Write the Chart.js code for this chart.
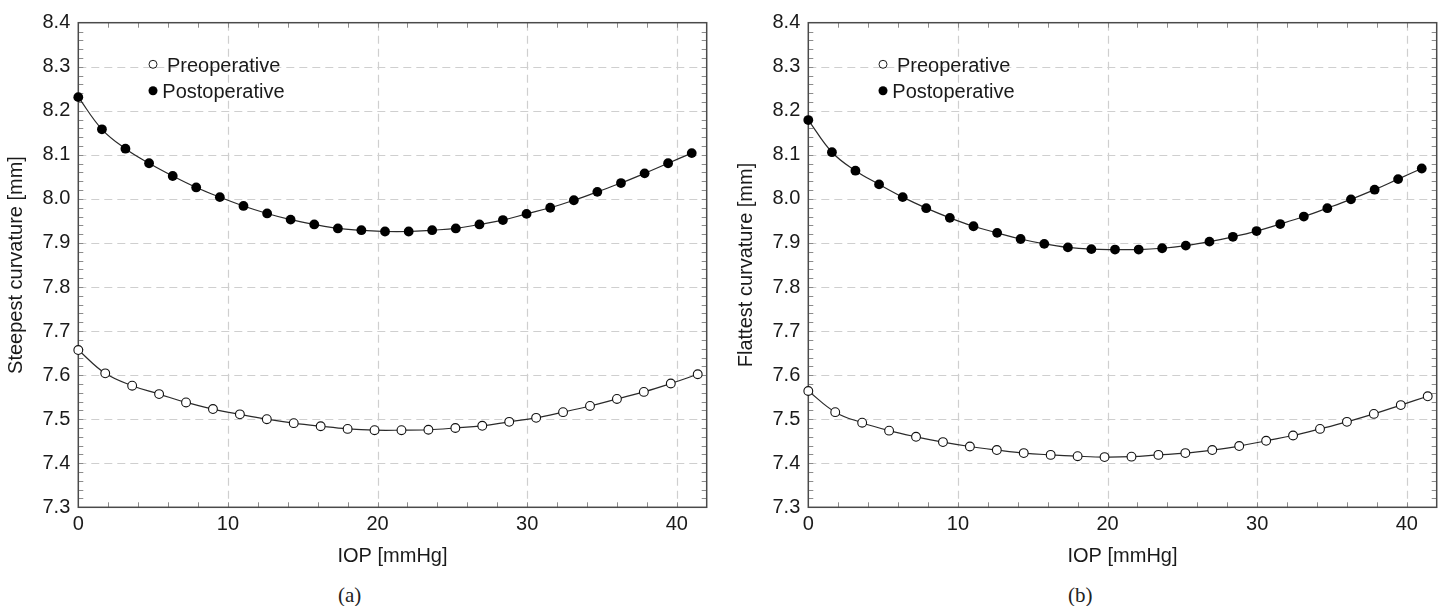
<!DOCTYPE html>
<html>
<head>
<meta charset="utf-8">
<script src="https://cdn.jsdelivr.net/npm/chart.js@4.4.1/dist/chart.umd.min.js"></script>
<style>
  html, body { margin: 0; padding: 0; background: #fff; width: 1445px; height: 606px; overflow: hidden; }
  canvas { position: absolute; top: 0; }
  #cA { left: 0; }
  #cB { left: 730px; }
  .cap { position: absolute; font-family: "Liberation Serif", "DejaVu Serif", serif; font-size: 21px; color: #222; top: 583px; }
</style>
</head>
<body>
<canvas id="cA" width="715" height="580"></canvas>
<canvas id="cB" width="715" height="580"></canvas>
<div class="cap" style="left:338px">(a)</div>
<div class="cap" style="left:1068px">(b)</div>
<script>
// ---- data ----
const iopPre = [0, 1.8, 3.6, 5.4, 7.2, 9.0, 10.8, 12.6, 14.4, 16.2, 18.0, 19.8, 21.6, 23.4, 25.2, 27.0, 28.8, 30.6, 32.4, 34.2, 36.0, 37.8, 39.6, 41.4];
const iopPost = [0, 1.58, 3.15, 4.73, 6.31, 7.88, 9.46, 11.04, 12.62, 14.19, 15.77, 17.35, 18.92, 20.5, 22.08, 23.65, 25.23, 26.81, 28.38, 29.96, 31.54, 33.12, 34.69, 36.27, 37.85, 39.42, 41.0];

const steepPre = [7.657, 7.604, 7.576, 7.557, 7.538, 7.523, 7.511, 7.500, 7.491, 7.484, 7.478, 7.475, 7.475, 7.476, 7.480, 7.485, 7.494, 7.503, 7.516, 7.530, 7.546, 7.562, 7.581, 7.602];
const steepPost = [8.231, 8.158, 8.114, 8.081, 8.052, 8.026, 8.004, 7.984, 7.967, 7.953, 7.942, 7.933, 7.929, 7.926, 7.926, 7.929, 7.933, 7.942, 7.952, 7.966, 7.980, 7.997, 8.016, 8.036, 8.058, 8.081, 8.104];

const flatPre = [7.564, 7.516, 7.492, 7.474, 7.460, 7.448, 7.438, 7.430, 7.423, 7.419, 7.416, 7.414, 7.415, 7.419, 7.423, 7.430, 7.439, 7.451, 7.463, 7.478, 7.494, 7.512, 7.532, 7.552];
const flatPost = [8.179, 8.106, 8.064, 8.033, 8.004, 7.979, 7.957, 7.938, 7.923, 7.909, 7.898, 7.890, 7.886, 7.885, 7.885, 7.888, 7.894, 7.903, 7.914, 7.927, 7.943, 7.960, 7.979, 7.999, 8.021, 8.045, 8.069];

const seriesLabels = ['Preoperative', 'Postoperative'];
const xTitle = 'IOP [mmHg]';
const yTitles = ['Steepest curvature [mm]', 'Flattest curvature [mm]'];
const xTickValues = [0, 10, 20, 30, 40];
const yTickValues = [7.3, 7.4, 7.5, 7.6, 7.7, 7.8, 7.9, 8.0, 8.1, 8.2, 8.3, 8.4];
const xRange = [0, 42];
const yRange = [7.3, 8.4];

const FONT = '"Liberation Sans", Arimo, Helvetica, Arial, sans-serif';

const framePlugin = {
  id: 'frame',
  beforeDatasetsDraw(chart) {
    const { ctx, chartArea: a, scales: { x, y } } = chart;
    ctx.save();
    // dashed grid at major ticks
    ctx.strokeStyle = '#cfcfcf';
    ctx.lineWidth = 1.2;
    ctx.setLineDash([8, 5]);
    x.ticks.forEach(t => {
      const px = Math.round(x.getPixelForValue(t.value)) + 0.5;
      if (px <= a.left + 2 || px >= a.right - 2) return;
      ctx.beginPath(); ctx.moveTo(px, a.top); ctx.lineTo(px, a.bottom); ctx.stroke();
    });
    y.ticks.forEach(t => {
      const py = Math.round(y.getPixelForValue(t.value)) + 0.5;
      if (py <= a.top + 2 || py >= a.bottom - 2) return;
      ctx.beginPath(); ctx.moveTo(a.left, py); ctx.lineTo(a.right, py); ctx.stroke();
    });
    ctx.setLineDash([]);
    // minor ticks inside the frame
    ctx.strokeStyle = '#8c8c8c';
    ctx.lineWidth = 1;
    const L = 5;
    for (let k = 1; k * 2 < xRange[1]; k++) {
      const px = Math.round(x.getPixelForValue(k * 2)) + 0.5;
      ctx.beginPath();
      ctx.moveTo(px, a.bottom); ctx.lineTo(px, a.bottom - L);
      ctx.moveTo(px, a.top); ctx.lineTo(px, a.top + L);
      ctx.stroke();
    }
    for (let k = 1; k < 55; k++) {
      const v = yRange[0] + k * 0.02;
      const py = Math.round(y.getPixelForValue(v)) + 0.5;
      ctx.beginPath();
      ctx.moveTo(a.left, py); ctx.lineTo(a.left + L, py);
      ctx.moveTo(a.right, py); ctx.lineTo(a.right - L, py);
      ctx.stroke();
    }
    // frame
    ctx.strokeStyle = '#4a4a4a';
    ctx.lineWidth = 1.5;
    ctx.strokeRect(a.left, a.top, a.right - a.left, a.bottom - a.top);
    ctx.restore();
  },
  afterDraw(chart) {
    const { ctx, chartArea: a } = chart;
    ctx.save();
    ctx.font = '20px ' + FONT;
    ctx.textBaseline = 'alphabetic';
    const mx = a.left + 74.7;
    // Preoperative
    let my = a.top + 41.6;
    ctx.beginPath(); ctx.arc(mx, my, 4, 0, Math.PI * 2);
    ctx.fillStyle = '#fff'; ctx.fill();
    ctx.strokeStyle = '#1a1a1a'; ctx.lineWidth = 1; ctx.stroke();
    ctx.fillStyle = '#1a1a1a';
    ctx.fillText(chart.data.datasets[0].label, a.left + 88.7, my + 7.2);
    // Postoperative
    my = a.top + 68;
    ctx.beginPath(); ctx.arc(mx, my, 4.5, 0, Math.PI * 2);
    ctx.fillStyle = '#000'; ctx.fill();
    ctx.fillStyle = '#1a1a1a';
    ctx.fillText(chart.data.datasets[1].label, a.left + 84, my + 7.2);
    ctx.restore();
  }
};

function makeChart(id, pre, post, yTitle) {
  return new Chart(document.getElementById(id), {
    type: 'line',
    data: {
      datasets: [
        {
          label: seriesLabels[0],
          data: iopPre.map((v, i) => ({ x: v, y: pre[i] })),
          borderColor: '#2a2a2a', borderWidth: 1.2,
          pointRadius: 4.4, pointBorderWidth: 1.1,
          pointBackgroundColor: '#ffffff', pointBorderColor: '#111',
          tension: 0.4, fill: false, clip: false
        },
        {
          label: seriesLabels[1],
          data: iopPost.map((v, i) => ({ x: v, y: post[i] })),
          borderColor: '#2a2a2a', borderWidth: 1.2,
          pointRadius: 4.9, pointBorderWidth: 0,
          pointBackgroundColor: '#000', pointBorderColor: '#000',
          tension: 0.4, fill: false, clip: false
        }
      ]
    },
    options: {
      responsive: false,
      devicePixelRatio: 1,
      animation: false,
      events: [],
      layout: { padding: { top: 22.7, right: 8.3, left: 0, bottom: 0 } },
      plugins: { legend: { display: false }, tooltip: { enabled: false } },
      scales: {
        x: {
          type: 'linear', min: xRange[0], max: xRange[1],
          grid: { display: false, drawTicks: false },
          border: { display: false },
          afterBuildTicks(s) { s.ticks = xTickValues.map(v => ({ value: v })); },
          afterFit(s) { s.height = 72.7; },
          ticks: { autoSkip: false, maxRotation: 0, padding: 5, color: '#1a1a1a', font: { family: FONT, size: 20 } },
          title: { display: true, text: xTitle, color: '#1a1a1a', font: { family: FONT, size: 20 }, padding: { top: 0, bottom: 12 } }
        },
        y: {
          type: 'linear', min: yRange[0], max: yRange[1],
          grid: { display: false, drawTicks: false },
          border: { display: false },
          afterBuildTicks(s) { s.ticks = yTickValues.map(v => ({ value: v })); },
          afterFit(s) { s.width = 78.3; },
          ticks: { autoSkip: false, padding: 8, color: '#1a1a1a', font: { family: FONT, size: 20 },
                   callback: v => Number(v).toFixed(1) },
          title: { display: true, text: yTitle, color: '#1a1a1a', font: { family: FONT, size: 20 }, padding: { top: 4, bottom: 0 } }
        }
      }
    },
    plugins: [framePlugin]
  });
}

makeChart('cA', steepPre, steepPost, yTitles[0]);
makeChart('cB', flatPre, flatPost, yTitles[1]);
</script>
</body>
</html>
